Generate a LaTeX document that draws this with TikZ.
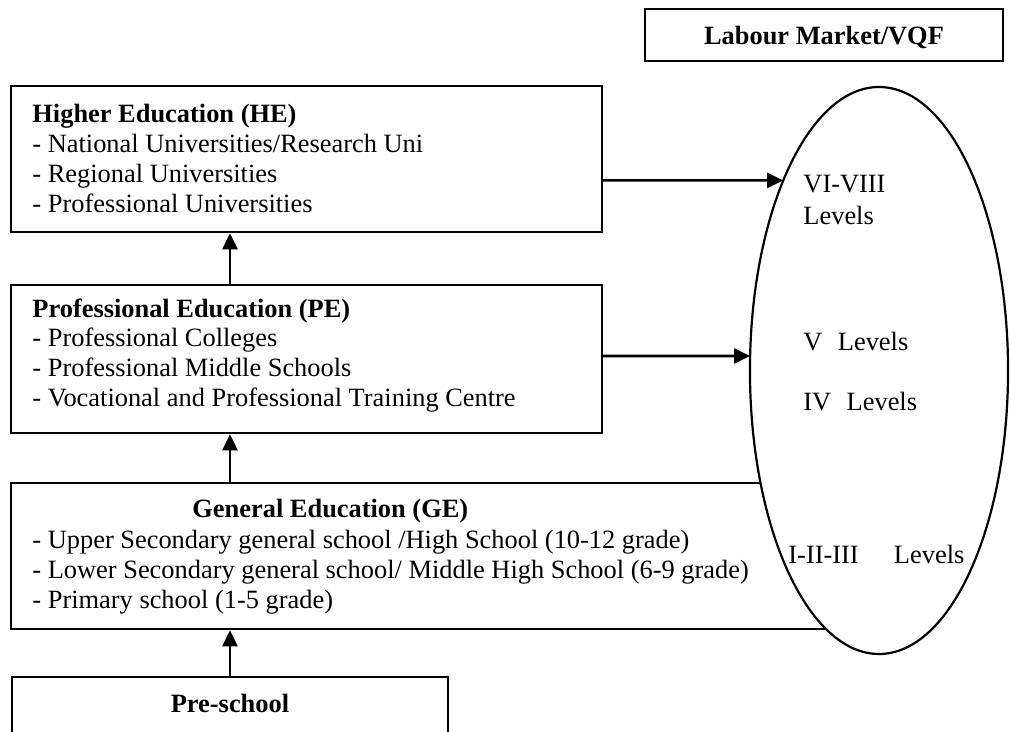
\documentclass[tikz,border=0pt]{standalone}
\usepackage{fontspec}
\setmainfont{Liberation Serif}
\usetikzlibrary{shapes,arrows.meta,calc,fit,intersections}

\tikzset{
  box/.style={draw, line width=1.1pt, rectangle, inner sep=0pt},
  txt/.style={anchor=base west, inner sep=0pt, font=\fontsize{12}{13.6}\selectfont},
  head/.style={txt, font=\fontsize{12}{13.6}\selectfont\bfseries},
  arr/.style={line width=1.2pt, -{Triangle[length=7.3pt,width=6.8pt]}},
}

\begin{document}
\begin{tikzpicture}[x=0.4545pt,y=-0.4545pt]
    \useasboundingbox (0,0) rectangle (1010,732);

    %Shape: Rectangle [labour market]
    \node[box, fit={(645,9) (1003,61)}] (lm) {};
    \node[head, anchor=base] (lmt) at (824,45) {Labour Market/VQF};

    %Shape: Rectangle [higher education]
    \node[box, fit={(11,86) (602,232)}] (he) {};
    % Text Node
    \node[head] (he0) at (32,122) {Higher Education (HE)};
    \node[txt] (he1) at (32,152) {- National Universities/Research Uni};
    \node[txt] (he2) at (32,182) {- Regional Universities};
    \node[txt] (he3) at (32,212) {- Professional Universities};

    %Shape: Rectangle [professional education]
    \node[box, fit={(11,285) (602,433)}] (pe) {};
    % Text Node
    \node[head] (pe0) at (32,317) {Professional Education (PE)};
    \node[txt] (pe1) at (32,346) {- Professional Colleges};
    \node[txt] (pe2) at (32,376) {- Professional Middle Schools};
    \node[txt] (pe3) at (32,406) {- Vocational and Professional Training Centre};

    %Shape: Rectangle [general education]
    \node[box, fit={(11,483) (900,629)}] (ge) {};
    % Text Node
    \node[head] (ge0) at (192,517) {General Education (GE)};
    \node[txt] (ge1) at (32,548) {- Upper Secondary general school /High School (10-12 grade)};
    \node[txt] (ge2) at (32,578) {- Lower Secondary general school/ Middle High School (6-9 grade)};
    \node[txt] (ge3) at (32,608) {- Primary school (1-5 grade)};

    %Shape: Rectangle [pre-school]
    \node[box, fit={(12,677) (448,770)}] (ps) {};
    \node[head, anchor=base] (pst) at (230,712) {Pre-school};

    %Shape: Ellipse [levels]
    \node[draw, fill=white, ellipse, line width=1pt, inner sep=0pt,
          minimum width=117.3pt, minimum height=257.7pt, name path=lvl] (lv) at (879,370.5) {};
    % Text Node
    \node[txt] (l8) at (803,192) {VI-VIII};
    \node[txt] (l8b) at (803,224) {Levels};
    \node[txt] (l5) at (803,350) {V\hspace{7pt}Levels};
    \node[txt] (l4) at (803,410) {IV\hspace{7pt}Levels};
    \node[txt] (l1) at (788,563) {I-II-III\hspace{16pt}Levels};

    %Straight Lines [upwards]
    \draw[arr] (ps.north) -- (ps.north |- ge.south);
    \draw[arr] (ps.north |- ge.north) -- (ps.north |- pe.south);
    \draw[arr] (ps.north |- pe.north) -- (ps.north |- he.south);

    %Straight Lines [into the ellipse]
    \coordinate (hes) at ($(he.north east)!0.644!(he.south east)$);
    \coordinate (pes) at ($(pe.north east)!0.48!(pe.south east)$);
    \path[name path=heline] (hes) -- ++(300,0);
    \path[name path=peline] (pes) -- ++(300,0);
    \path[name intersections={of=heline and lvl, sort by=heline, by={het}}];
    \path[name intersections={of=peline and lvl, sort by=peline, by={pet}}];
    \draw[arr] (hes) -- (het);
    \draw[arr] (pes) -- (pet);

\end{tikzpicture}
\end{document}
